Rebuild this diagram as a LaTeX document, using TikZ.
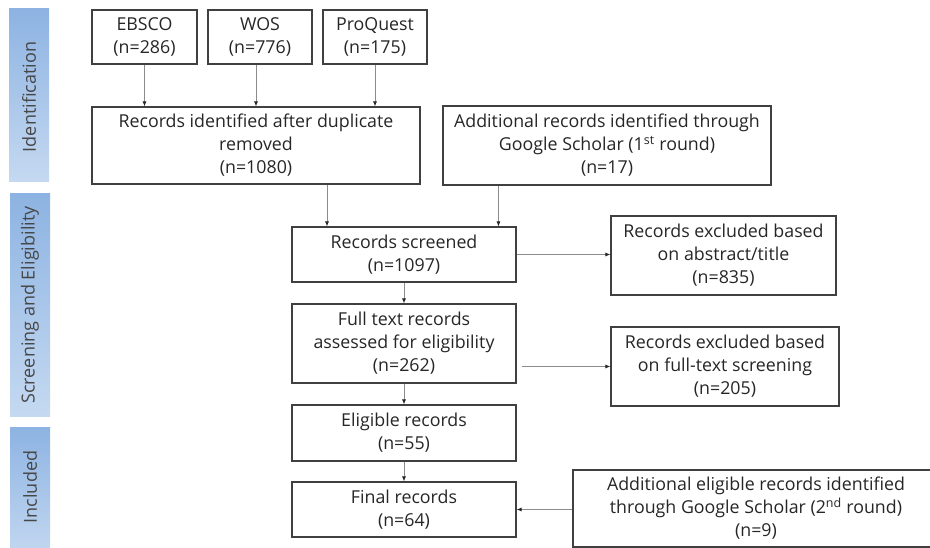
\documentclass[tikz,border=0pt]{standalone}
\usepackage{fontspec}
\setmainfont{Open Sans}
\usetikzlibrary{arrows.meta,calc}
\definecolor{boxline}{HTML}{404040}
\definecolor{conn}{HTML}{8C8C8C}
\definecolor{txt}{HTML}{262626}
\definecolor{bartop}{HTML}{8DB3E2}
\definecolor{barbot}{HTML}{C5D9F1}
\begin{document}
\begin{tikzpicture}[x=1pt,y=-1pt,
  box/.style={draw=boxline, line width=1.1pt, align=center, text=txt,
    font=\fontsize{17.8}{23}\selectfont, inner sep=0pt},
  arr/.style={draw=conn, line width=0.8pt, -{Latex[length=5pt,width=4pt,color=black!85]}},
  bartext/.style={rotate=90, text=txt!85, font=\fontsize{18}{20}\selectfont}]
\useasboundingbox (0,0) rectangle (930,548);
\clip (0,0) rectangle (930,548);
% side bars
\shade[top color=bartop, bottom color=barbot] (9,9) rectangle (49,182);
\shade[top color=bartop, bottom color=barbot] (10,194) rectangle (50,416);
\shade[top color=bartop, bottom color=barbot] (10,427) rectangle (50,560);
\node[bartext] (lid) at (29,97) {Identification};
\node[bartext] (lse) at (30,305) {Screening and Eligibility};
\node[bartext] (lin) at (30,487) {Included};
% boxes
\node[box, minimum width=105pt, minimum height=54pt] (ebsco) at (144.5,37) {EBSCO\\(n=286)};
\node[box, minimum width=104pt, minimum height=54pt] (wos) at (260,37) {WOS\\(n=776)};
\node[box, minimum width=104pt, minimum height=54pt] (pq) at (375,37) {ProQuest\\(n=175)};
\node[box, minimum width=328pt, minimum height=77pt] (records) at (256,145.5) {Records identified after duplicate\\removed\\(n=1080)};
\node[box, minimum width=328pt, minimum height=79pt] (add1) at (607,145.5) {Additional records identified through\\Google Scholar (1\textsuperscript{st} round)\\(n=17)};
\node[box, minimum width=224pt, minimum height=55pt] (screened) at (404,254.5) {Records screened\\(n=1097)};
\node[box, minimum width=225pt, minimum height=79pt] (excl1) at (723.5,255.5) {Records excluded based\\on abstract/title\\(n=835)};
\node[box, minimum width=224pt, minimum height=79pt] (full) at (404,343.5) {Full text records\\assessed for eligibility\\(n=262)};
\node[box, minimum width=228pt, minimum height=79pt] (excl2) at (725,366.5) {Records excluded based\\on full-text screening\\(n=205)};
\node[box, minimum width=224pt, minimum height=56pt] (elig) at (404,433) {Eligible records\\(n=55)};
\node[box, minimum width=224pt, minimum height=55pt] (final) at (404,509.5) {Final records\\(n=64)};
\node[box, minimum width=366pt, minimum height=77pt] (add2) at (756,508.5) {Additional eligible records identified\\through Google Scholar (2\textsuperscript{nd} round)\\(n=9)};
% connectors
\draw[arr] (ebsco.south) -- (ebsco.south |- records.north);
\draw[arr] ([xshift=-4pt]wos.south) -- ([xshift=-4pt]wos.south |- records.north);
\draw[arr] (pq.south) -- (pq.south |- records.north);
\draw[arr] ([xshift=71pt]records.south) -- ([xshift=71pt]records.south |- screened.north);
\draw[arr] ([xshift=56pt]add1.south west) -- ([xshift=56pt]add1.south west |- screened.north);
\draw[arr] (screened.east) -- (screened.east -| excl1.west);
\draw[arr] (screened.south) -- (full.north);
\draw[arr] ([xshift=5pt]full.east |- excl2.west) -- (excl2.west);
\draw[arr] (full.south) -- (elig.north);
\draw[arr] (elig.south) -- (final.north);
\draw[arr] (add2.west |- final.east) -- (final.east);
\end{tikzpicture}
\end{document}
